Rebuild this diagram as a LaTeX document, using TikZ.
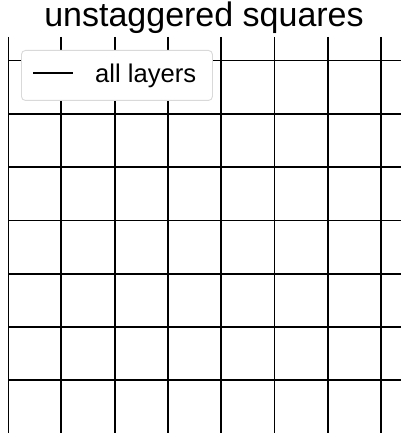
\documentclass[tikz,border=0pt]{standalone}
\usepackage{fontspec}
\setmainfont{Liberation Sans}
\begin{document}
\begin{tikzpicture}[x=1pt,y=-1pt,
  gridline/.style={line width=1.8pt,black},
  legendbox/.style={draw=black!15,line width=0.9pt,fill=white,rounded corners=4pt},
  legendline/.style={line width=1.6pt,black}]
\useasboundingbox (0,0) rectangle (401,433);
\fill[white] (0,0) rectangle (401,433);
\begin{scope}
\clip (8,37) rectangle (401,433);
\foreach \i in {0,...,7} {
  \draw[gridline] (8+53.3*\i,37) -- (8+53.3*\i,433);
}
\foreach \j in {0,...,6} {
  \draw[gridline] (8,60.5+53.3*\j) -- (401,60.5+53.3*\j);
}
\end{scope}
\node[anchor=base,font=\fontsize{34}{40}\selectfont,inner sep=0pt] (title) at (204,27) {unstaggered squares};
\node[legendbox,minimum width=191pt,minimum height=50pt,anchor=north west,inner sep=0pt] (legend) at (21,50) {};
\coordinate (la) at (33,73);
\coordinate (lb) at (73,73);
\draw[legendline] (la) -- (lb);
\node[anchor=base west,font=\fontsize{25.6}{30}\selectfont,inner sep=0pt] (lt) at (95,82.7) {all layers};
\end{tikzpicture}
\end{document}
